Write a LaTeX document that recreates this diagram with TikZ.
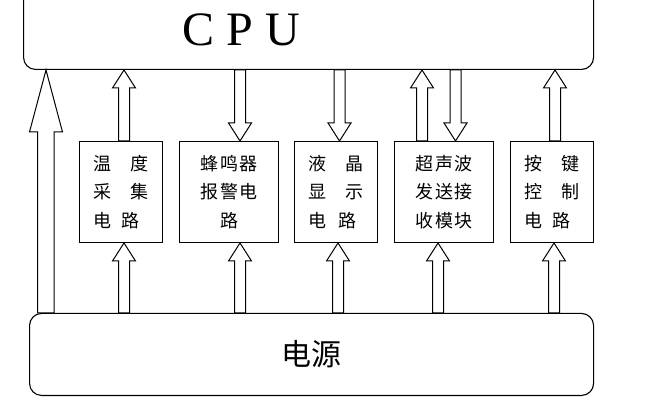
\documentclass[tikz,border=0pt]{standalone}
\usepackage{fontspec}
\setmainfont{Liberation Serif}
\newfontfamily\cjk{Noto Sans CJK SC}
\usetikzlibrary{calc}
\tikzset{
  bigbox/.style={draw, line width=1.1pt, rounded corners=12pt, anchor=south west, inner sep=0pt},
  unit/.style={draw, line width=1pt, anchor=south west, minimum height=101pt, inner sep=0pt,
    font=\cjk\fontsize{18}{28.5}\selectfont, align=center},
  blk/.style={draw, fill=white, line width=1pt, line join=miter},
}
% x centre, lower anchor, upper anchor
\newcommand{\blkup}[3]{%
  \draw[blk] let \p1=(#2), \p2=(#3) in
    (#1pt-5.5pt,\y1) -- (#1pt-5.5pt,\y2-18pt) -- (#1pt-11.5pt,\y2-18pt) -- (#1pt,\y2)
    -- (#1pt+11.5pt,\y2-18pt) -- (#1pt+5.5pt,\y2-18pt) -- (#1pt+5.5pt,\y1) -- cycle;}
% x centre, upper anchor, lower anchor
\newcommand{\blkdown}[3]{%
  \draw[blk] let \p1=(#2), \p2=(#3) in
    (#1pt-5.5pt,\y1) -- (#1pt-5.5pt,\y2+18pt) -- (#1pt-11.5pt,\y2+18pt) -- (#1pt,\y2)
    -- (#1pt+11.5pt,\y2+18pt) -- (#1pt+5.5pt,\y2+18pt) -- (#1pt+5.5pt,\y1) -- cycle;}
\begin{document}
\begin{tikzpicture}[x=1pt,y=1pt]
\useasboundingbox (0,0) rectangle (647,404);
\clip (0,0) rectangle (647,404);
\fill[white] (0,0) rectangle (647,404);

\node[bigbox, minimum width=570pt, minimum height=85pt] (cpu) at (23,334) {};
\node[inner sep=0pt, font=\fontsize{48}{48}\selectfont] (cputxt) at (241,374) {C P U};

\node[bigbox, minimum width=564pt, minimum height=82pt,
      font=\cjk\fontsize{30}{30}\selectfont] (pwr) at (29,8) {电源};

\node[unit, minimum width=83pt] (b1) at (79,161)
  {\makebox[55pt][s]{温\hfill 度}\\\makebox[55pt][s]{采\hfill 集}\\\makebox[55pt][l]{电\hspace{10pt}路}};
\node[unit, minimum width=99pt] (b2) at (179,161)
  {\makebox[58pt][s]{蜂\hfill 鸣\hfill 器}\\\makebox[58pt][s]{报\hfill 警\hfill 电}\\路};
\node[unit, minimum width=83pt] (b3) at (294,161)
  {\makebox[55pt][s]{液\hfill 晶}\\\makebox[55pt][s]{显\hfill 示}\\\makebox[55pt][l]{电\hspace{12pt}路}};
\node[unit, minimum width=99pt] (b4) at (394,161)
  {\makebox[57pt][s]{超\hfill 声\hfill 波}\\\makebox[57pt][s]{发\hfill 送\hfill 接}\\\makebox[57pt][s]{收\hfill 模\hfill 块}};
\node[unit, minimum width=83pt] (b5) at (510,161)
  {\makebox[55pt][s]{按\hfill 键}\\\makebox[55pt][s]{控\hfill 制}\\\makebox[55pt][l]{电\hspace{10pt}路}};

% top row
\blkup{124}{b1.north}{cpu.south}
\blkdown{240}{cpu.south}{b2.north}
\blkdown{339.5}{cpu.south}{b3.north}
\blkup{422}{b4.north}{cpu.south}
\blkdown{455.5}{cpu.south}{b4.north}
\blkup{555}{b5.north}{cpu.south}

% bottom row
\blkup{124}{pwr.north}{b1.south}
\blkup{240}{pwr.north}{b2.south}
\blkup{338}{pwr.north}{b3.south}
\blkup{438}{pwr.north}{b4.south}
\blkup{554}{pwr.north}{b5.south}

% big left arrow
\draw[blk] let \p1=(pwr.north), \p2=(cpu.south) in
  (37.5pt,\y1) -- (37.5pt,272pt) -- (29.5pt,272pt) -- (46pt,\y2)
  -- (62.5pt,272pt) -- (54pt,272pt) -- (54pt,\y1) -- cycle;
\end{tikzpicture}
\end{document}
